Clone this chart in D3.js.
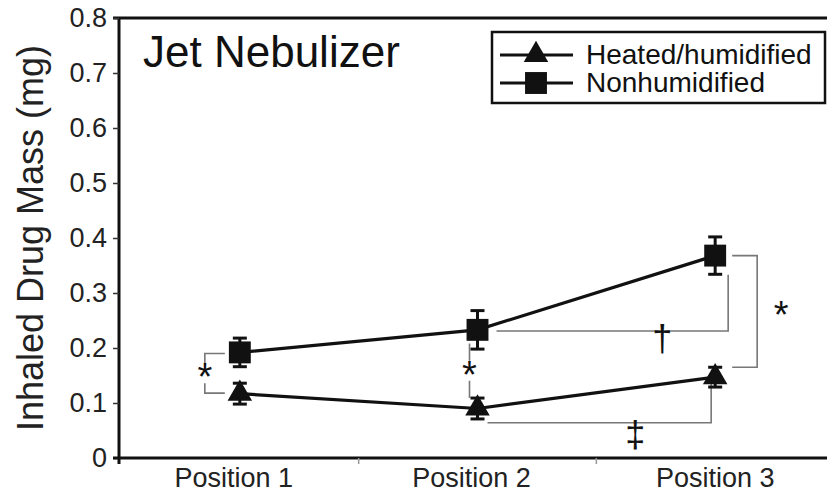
<!DOCTYPE html>
<html>
<head>
<meta charset="utf-8">
<script src="https://cdn.jsdelivr.net/npm/d3@7"></script>
<style>
  body { margin: 0; background: #fff; }
  svg { display: block; font-family: 'Liberation Sans', Arial, sans-serif; }
</style>
</head>
<body>
<div id="chart"></div>
<script>
'use strict';

const categories = ['Position 1', 'Position 2', 'Position 3'];
const yTicks = [0, 0.1, 0.2, 0.3, 0.4, 0.5, 0.6, 0.7, 0.8];

const heatedMean = [0.117, 0.090, 0.147];
const heatedErr = [0.019, 0.019, 0.018];
const nonhumMean = [0.192, 0.233, 0.368];
const nonhumErr = [0.026, 0.035, 0.034];

const seriesNames = ['Heated/humidified', 'Nonhumidified'];

// significance brackets, y in mg, x as offset from the category centre
const pairBrackets = [
  { cat: 0, dx: -35, arm: 20, y0: 0.190, y1: 0.118, mark: '*' },
  { cat: 1, dx: -8, arm: 0, y0: 0.208, y1: 0.109, mark: '*' },
];
const daggerLines = [
  { from: 1, fromDx: 19, to: 2, toDx: 13, y: 0.231, yEnd: 0.333, mark: '\u2020', markDx: -53 },
  { from: 1, fromDx: 10, to: 2, toDx: -4, y: 0.064, yEnd: 0.136, mark: '\u2021', markDx: -80 },
];
const sideBracket = { cat: 2, dx0: 17, dx1: 42, y0: 0.368, y1: 0.165, mark: '*' };

const width = 827;
const height = 495;

const svg = d3.select('#chart')
  .append('svg')
  .attr('width', width)
  .attr('height', height);

const x = d3.scaleBand().domain(categories).range([121, 834]).padding(0);
const y = d3.scaleLinear().domain([0, 0.8]).range([458, 18]);
const cx = (i) => x(categories[i]) + x.bandwidth() / 2;

// frame: top line
svg.append('line')
  .attr('x1', 113).attr('x2', width)
  .attr('y1', y(0.8)).attr('y2', y(0.8))
  .attr('stroke', '#111').attr('stroke-width', 3);

// y axis
const yAxis = svg.append('g')
  .attr('transform', 'translate(119,0)')
  .call(d3.axisLeft(y)
    .tickValues(yTicks)
    .tickSize(6)
    .tickPadding(6)
    .tickFormat((d) => (d === 0 ? '0' : d3.format('.1f')(d))));
yAxis.select('.domain').attr('stroke', '#111').attr('stroke-width', 3)
  .attr('d', 'M0,' + y(0.8) + 'V' + (y(0) + 6));
yAxis.selectAll('.tick line').attr('stroke', '#333').attr('stroke-width', 1.5);
yAxis.selectAll('.tick text')
  .attr('font-size', 27).attr('fill', '#222')
  .attr('font-family', "'Liberation Sans', Arial, sans-serif");

// x axis
svg.append('line')
  .attr('x1', 113).attr('x2', width)
  .attr('y1', y(0)).attr('y2', y(0))
  .attr('stroke', '#111').attr('stroke-width', 3);
const xAxis = svg.append('g')
  .attr('transform', 'translate(0,' + y(0) + ')')
  .call(d3.axisBottom(x).tickSize(0).tickPadding(10));
xAxis.select('.domain').remove();
xAxis.selectAll('.tick text')
  .attr('font-size', 27).attr('fill', '#222')
  .attr('dx', (d, i) => (i < 2 ? -6 : 0))
  .attr('font-family', "'Liberation Sans', Arial, sans-serif");
svg.append('g').selectAll('line')
  .data(categories.slice(1))
  .join('line')
  .attr('x1', (d) => x(d)).attr('x2', (d) => x(d))
  .attr('y1', y(0)).attr('y2', y(0) + 6)
  .attr('stroke', '#999').attr('stroke-width', 1.5);

// axis title
svg.append('text')
  .attr('transform', 'translate(43,' + (y(0.4) + 0) + ') rotate(-90)')
  .attr('text-anchor', 'middle')
  .attr('font-size', 36)
  .attr('fill', '#222')
  .text('Inhaled Drug Mass (mg)');

// panel title
svg.append('text')
  .attr('x', 143).attr('y', 67)
  .attr('font-size', 44)
  .attr('fill', '#111')
  .text('Jet Nebulizer');

// annotations (thin grey)
const ann = svg.append('g')
  .attr('stroke', '#777').attr('stroke-width', 1.6).attr('fill', 'none');

const star = (sx, sy) =>
  svg.append('text')
    .attr('x', sx).attr('y', sy + 17)
    .attr('text-anchor', 'middle')
    .attr('font-size', 38).attr('fill', '#111')
    .text('*');

pairBrackets.forEach((b) => {
  const bx = cx(b.cat) + b.dx;
  const mid = (y(b.y0) + y(b.y1)) / 2;
  ann.append('path')
    .attr('d', 'M' + (bx + b.arm) + ',' + y(b.y0) + 'H' + bx + 'V' + (mid - 10) +
      'M' + bx + ',' + (mid + 10) + 'V' + y(b.y1) + 'H' + (bx + b.arm));
  star(bx, mid);
});

daggerLines.forEach((d) => {
  const xa = cx(d.from) + d.fromDx;
  const xb = cx(d.to) + d.toDx;
  ann.append('path')
    .attr('d', 'M' + xa + ',' + y(d.y) + 'H' + xb + 'V' + y(d.yEnd));
});
svg.append('text')
  .attr('x', cx(2) + daggerLines[0].markDx).attr('y', y(daggerLines[0].y) + 20)
  .attr('text-anchor', 'middle')
  .attr('font-size', 36).attr('fill', '#111')
  .text(daggerLines[0].mark);
svg.append('text')
  .attr('x', cx(2) + daggerLines[1].markDx).attr('y', y(daggerLines[1].y) + 24)
  .attr('text-anchor', 'middle')
  .attr('font-size', 36).attr('fill', '#111')
  .text(daggerLines[1].mark);

{
  const b = sideBracket;
  const xa = cx(b.cat) + b.dx0;
  const xb = cx(b.cat) + b.dx1;
  ann.append('path')
    .attr('d', 'M' + xa + ',' + y(b.y0) + 'H' + xb + 'V' + y(b.y1) + 'H' + xa);
  star(xb + 24, (y(b.y0) + y(b.y1)) / 2);
}

// series
const series = [
  { name: seriesNames[0], mean: heatedMean, err: heatedErr, symbol: d3.symbolTriangle, size: 260 },
  { name: seriesNames[1], mean: nonhumMean, err: nonhumErr, symbol: d3.symbolSquare, size: 480 },
];

const line = d3.line().x((d, i) => cx(i)).y((d) => y(d));

series.forEach((s) => {
  const g = svg.append('g');
  g.append('path')
    .datum(s.mean)
    .attr('d', line)
    .attr('fill', 'none')
    .attr('stroke', '#111')
    .attr('stroke-width', 3.2);

  const eb = g.selectAll('.eb')
    .data(s.mean.map((m, i) => ({ m, e: s.err[i], i })))
    .join('g')
    .attr('stroke', '#111').attr('stroke-width', 3);
  eb.append('line')
    .attr('x1', (d) => cx(d.i)).attr('x2', (d) => cx(d.i))
    .attr('y1', (d) => y(d.m - d.e)).attr('y2', (d) => y(d.m + d.e));
  eb.append('line')
    .attr('x1', (d) => cx(d.i) - 7).attr('x2', (d) => cx(d.i) + 7)
    .attr('y1', (d) => y(d.m - d.e)).attr('y2', (d) => y(d.m - d.e));
  eb.append('line')
    .attr('x1', (d) => cx(d.i) - 7).attr('x2', (d) => cx(d.i) + 7)
    .attr('y1', (d) => y(d.m + d.e)).attr('y2', (d) => y(d.m + d.e));

  g.selectAll('.pt')
    .data(s.mean)
    .join('path')
    .attr('transform', (d, i) => 'translate(' + cx(i) + ',' + y(d) + ')')
    .attr('d', d3.symbol().type(s.symbol).size(s.size))
    .attr('fill', '#111');
});

// legend
const legend = svg.append('g');
legend.append('rect')
  .attr('x', 492).attr('y', 32)
  .attr('width', 333).attr('height', 71)
  .attr('fill', '#fff')
  .attr('stroke', '#111').attr('stroke-width', 2.5);

const legRows = legend.selectAll('.row')
  .data(series)
  .join('g')
  .attr('transform', (d, i) => 'translate(0,' + (55 + i * 28) + ')');
legRows.append('line')
  .attr('x1', 500).attr('x2', 573)
  .attr('stroke', '#111').attr('stroke-width', 3);
legRows.append('path')
  .attr('transform', 'translate(536,0)')
  .attr('d', (d) => d3.symbol().type(d.symbol).size(d.size)())
  .attr('fill', '#111');
legRows.append('text')
  .attr('x', 586).attr('y', 9)
  .attr('font-size', 28).attr('fill', '#111')
  .text((d) => d.name);
</script>
</body>
</html>
